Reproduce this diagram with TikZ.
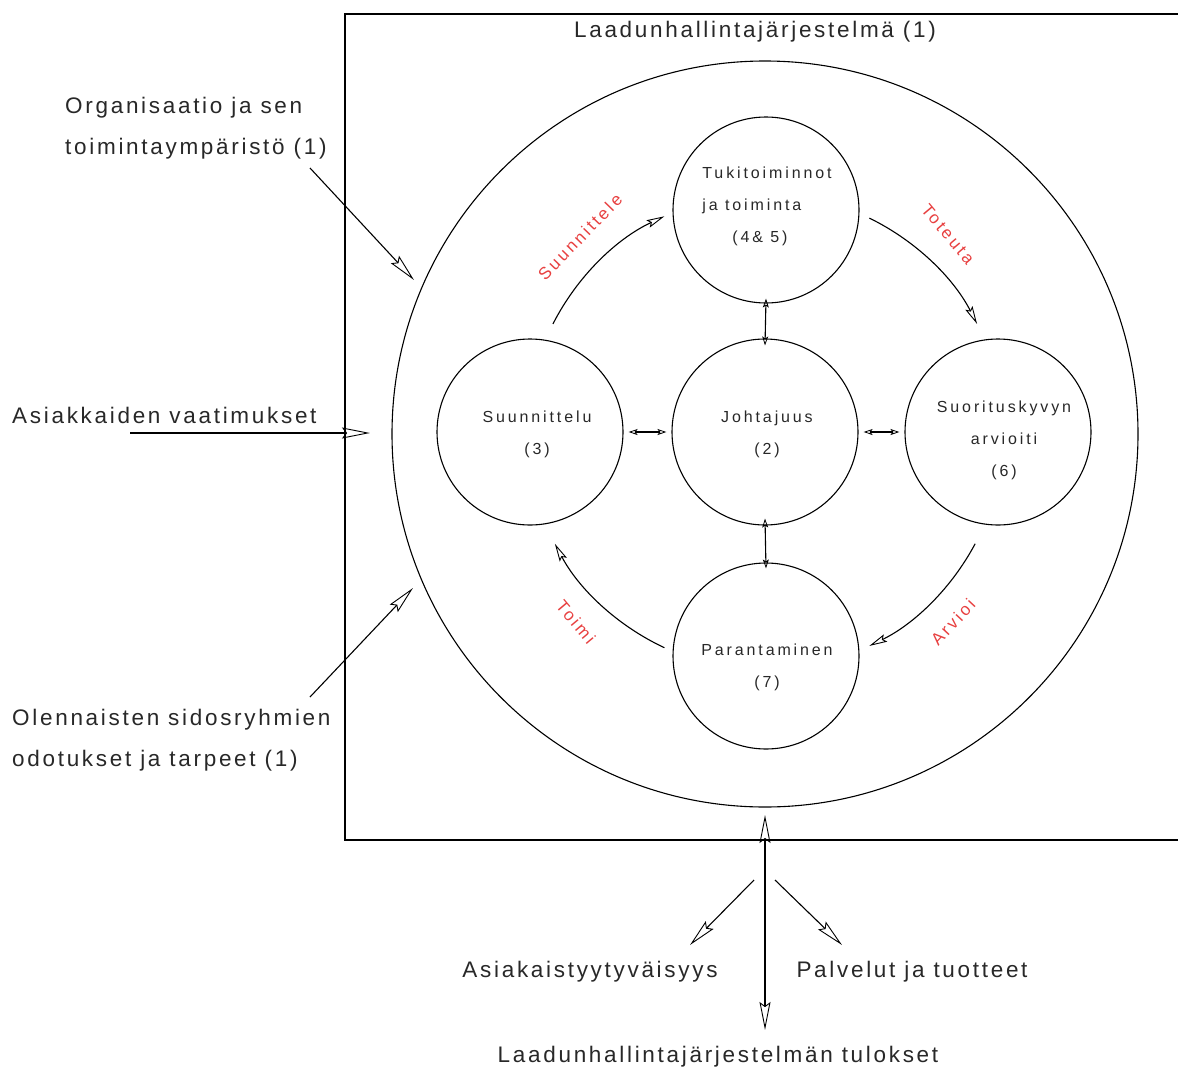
\documentclass[tikz,border=0pt]{standalone}
\usepackage{fontspec}
\usetikzlibrary{arrows.meta,calc}
\newfontfamily\mainlbl{Liberation Sans}[LetterSpace=12]
\newfontfamily\innerlbl{Liberation Sans}[LetterSpace=18]
\newfontfamily\phaselbl{Liberation Sans}[LetterSpace=16]
\definecolor{phasered}{RGB}{232,64,64}
\definecolor{ink}{RGB}{40,40,40}
\tikzset{
  outer/.style={font=\mainlbl\fontsize{22.5}{41}\selectfont, text=ink, inner sep=0pt},
  inner/.style={font=\innerlbl\fontsize{16}{32}\selectfont, text=ink, inner sep=0pt},
  phase/.style={font=\phaselbl\fontsize{17}{20}\selectfont, text=phasered, inner sep=0pt},
  ring/.style={draw, circle, line width=1.1pt, inner sep=0pt},
  wire/.style={line width=1.1pt},
  bigtip/.tip={Stealth[open, length=28pt, width=11pt, inset=4pt, line width=0.9pt]},
  smalltip/.tip={Stealth[open, length=9pt, width=6pt, inset=2pt, line width=0.8pt]},
  arctip/.tip={Stealth[open, length=18pt, width=8pt, inset=3pt, line width=0.9pt]},
  bighead/.style={wire, -bigtip},
  bothheads/.style={wire, bigtip-bigtip},
  smallboth/.style={wire, smalltip-smalltip},
  archead/.style={wire, -arctip},
}
\begin{document}
\begin{tikzpicture}[x=1pt, y=-1pt]
\useasboundingbox (0,0) rectangle (1178,1071);
\fill[white] (0,0) rectangle (1178,1071);

% system boundary
\draw[wire] (1200,14) -- (345,14) -- (345,840) -- (1200,840);
\node[outer] (qms) at (755,32) {Laadunhallintajärjestelmä (1)};

% outer ring and the five process circles
\node[ring, minimum size=746pt] (big) at (765,434) {};
\node[ring, minimum size=186pt] (ctop) at (766,210) {};
\node[ring, minimum size=186pt] (cleft) at (530,432) {};
\node[ring, minimum size=186pt] (cmid) at (765,432) {};
\node[ring, minimum size=186pt] (cright) at (998,432) {};
\node[ring, minimum size=186pt] (cbot) at (766,656) {};

% circle texts
\node[inner, align=left] (ttop) at (767,206) {Tukitoiminnot\\ja toiminta\\\hspace*{30pt}(4\& 5)};
\node[inner, align=center] (tleft) at (537,434) {Suunnittelu\\(3)};
\node[inner, align=center] (tmid) at (767,434) {Johtajuus\\(2)};
\node[inner, align=center] (tright) at (1004,440) {Suorituskyvyn\\arvioiti\\(6)};
\node[inner, align=center] (tbot) at (767,667) {Parantaminen\\(7)};

% links to the leadership circle
\draw[smallboth] ([yshift=5pt]ctop.south) -- ([yshift=-7pt]cmid.north);
\draw[smallboth] ([yshift=-6pt]cbot.north) -- ([yshift=7pt]cmid.south);
\draw[smallboth] ([xshift=5pt]cleft.east) -- ([xshift=-5pt]cmid.west);
\draw[smallboth] ([xshift=5pt]cmid.east) -- ([xshift=-5pt]cright.west);

% PDCA cycle arcs
\coordinate (O) at (765,432);
\draw[archead] (O) ++(-153:238) arc[start angle=-153, end angle=-115, radius=238];
\draw[archead] (O) ++(-64:238) arc[start angle=-64, end angle=-27, radius=238];
\draw[archead] (O) ++(28:238) arc[start angle=28, end angle=64, radius=238];
\draw[archead] (O) ++(115:238) arc[start angle=115, end angle=152, radius=238];

\node[phase, rotate=46] (pplan) at (580,237) {Suunnittele};
\node[phase, rotate=-50] (pdo) at (948,234) {Toteuta};
\node[phase, rotate=47] (pcheck) at (953,622) {Arvioi};
\node[phase, rotate=-50] (pact) at (576,622) {Toimi};

% inputs
\node[outer, anchor=west, align=left] (org) at (65,128) {Organisaatio ja sen\\toimintaympäristö (1)};
\node[outer, anchor=west] (cust) at (12,415) {Asiakkaiden vaatimukset};
\node[outer, anchor=west, align=left] (stake) at (12,740) {Olennaisten sidosryhmien\\odotukset ja tarpeet (1)};

\coordinate (orgs) at (310,168);
\coordinate (orge) at (414,280);
\draw[bighead] (orgs) -- (orge);
\coordinate (custs) at (130,433);
\coordinate (custe) at (370,433);
\draw[bighead] (custs) -- (custe);
\coordinate (stakes) at (310,697);
\coordinate (stakee) at (413,588);
\draw[bighead] (stakes) -- (stakee);

% outputs
\node[outer] (sat) at (590,972) {Asiakaistyytyväisyys};
\node[outer] (prod) at (912,972) {Palvelut ja tuotteet};
\node[outer] (res) at (718,1057) {Laadunhallintajärjestelmän tulokset};

\coordinate (outt) at (765,815);
\coordinate (outb) at (765,1030);
\draw[bothheads] (outt) -- (outb);
\coordinate (satS) at (754,880);
\coordinate (satE) at (690,945);
\draw[bighead] (satS) -- (satE);
\coordinate (prodS) at (775,880);
\coordinate (prodE) at (842,945);
\draw[bighead] (prodS) -- (prodE);
\end{tikzpicture}
\end{document}
